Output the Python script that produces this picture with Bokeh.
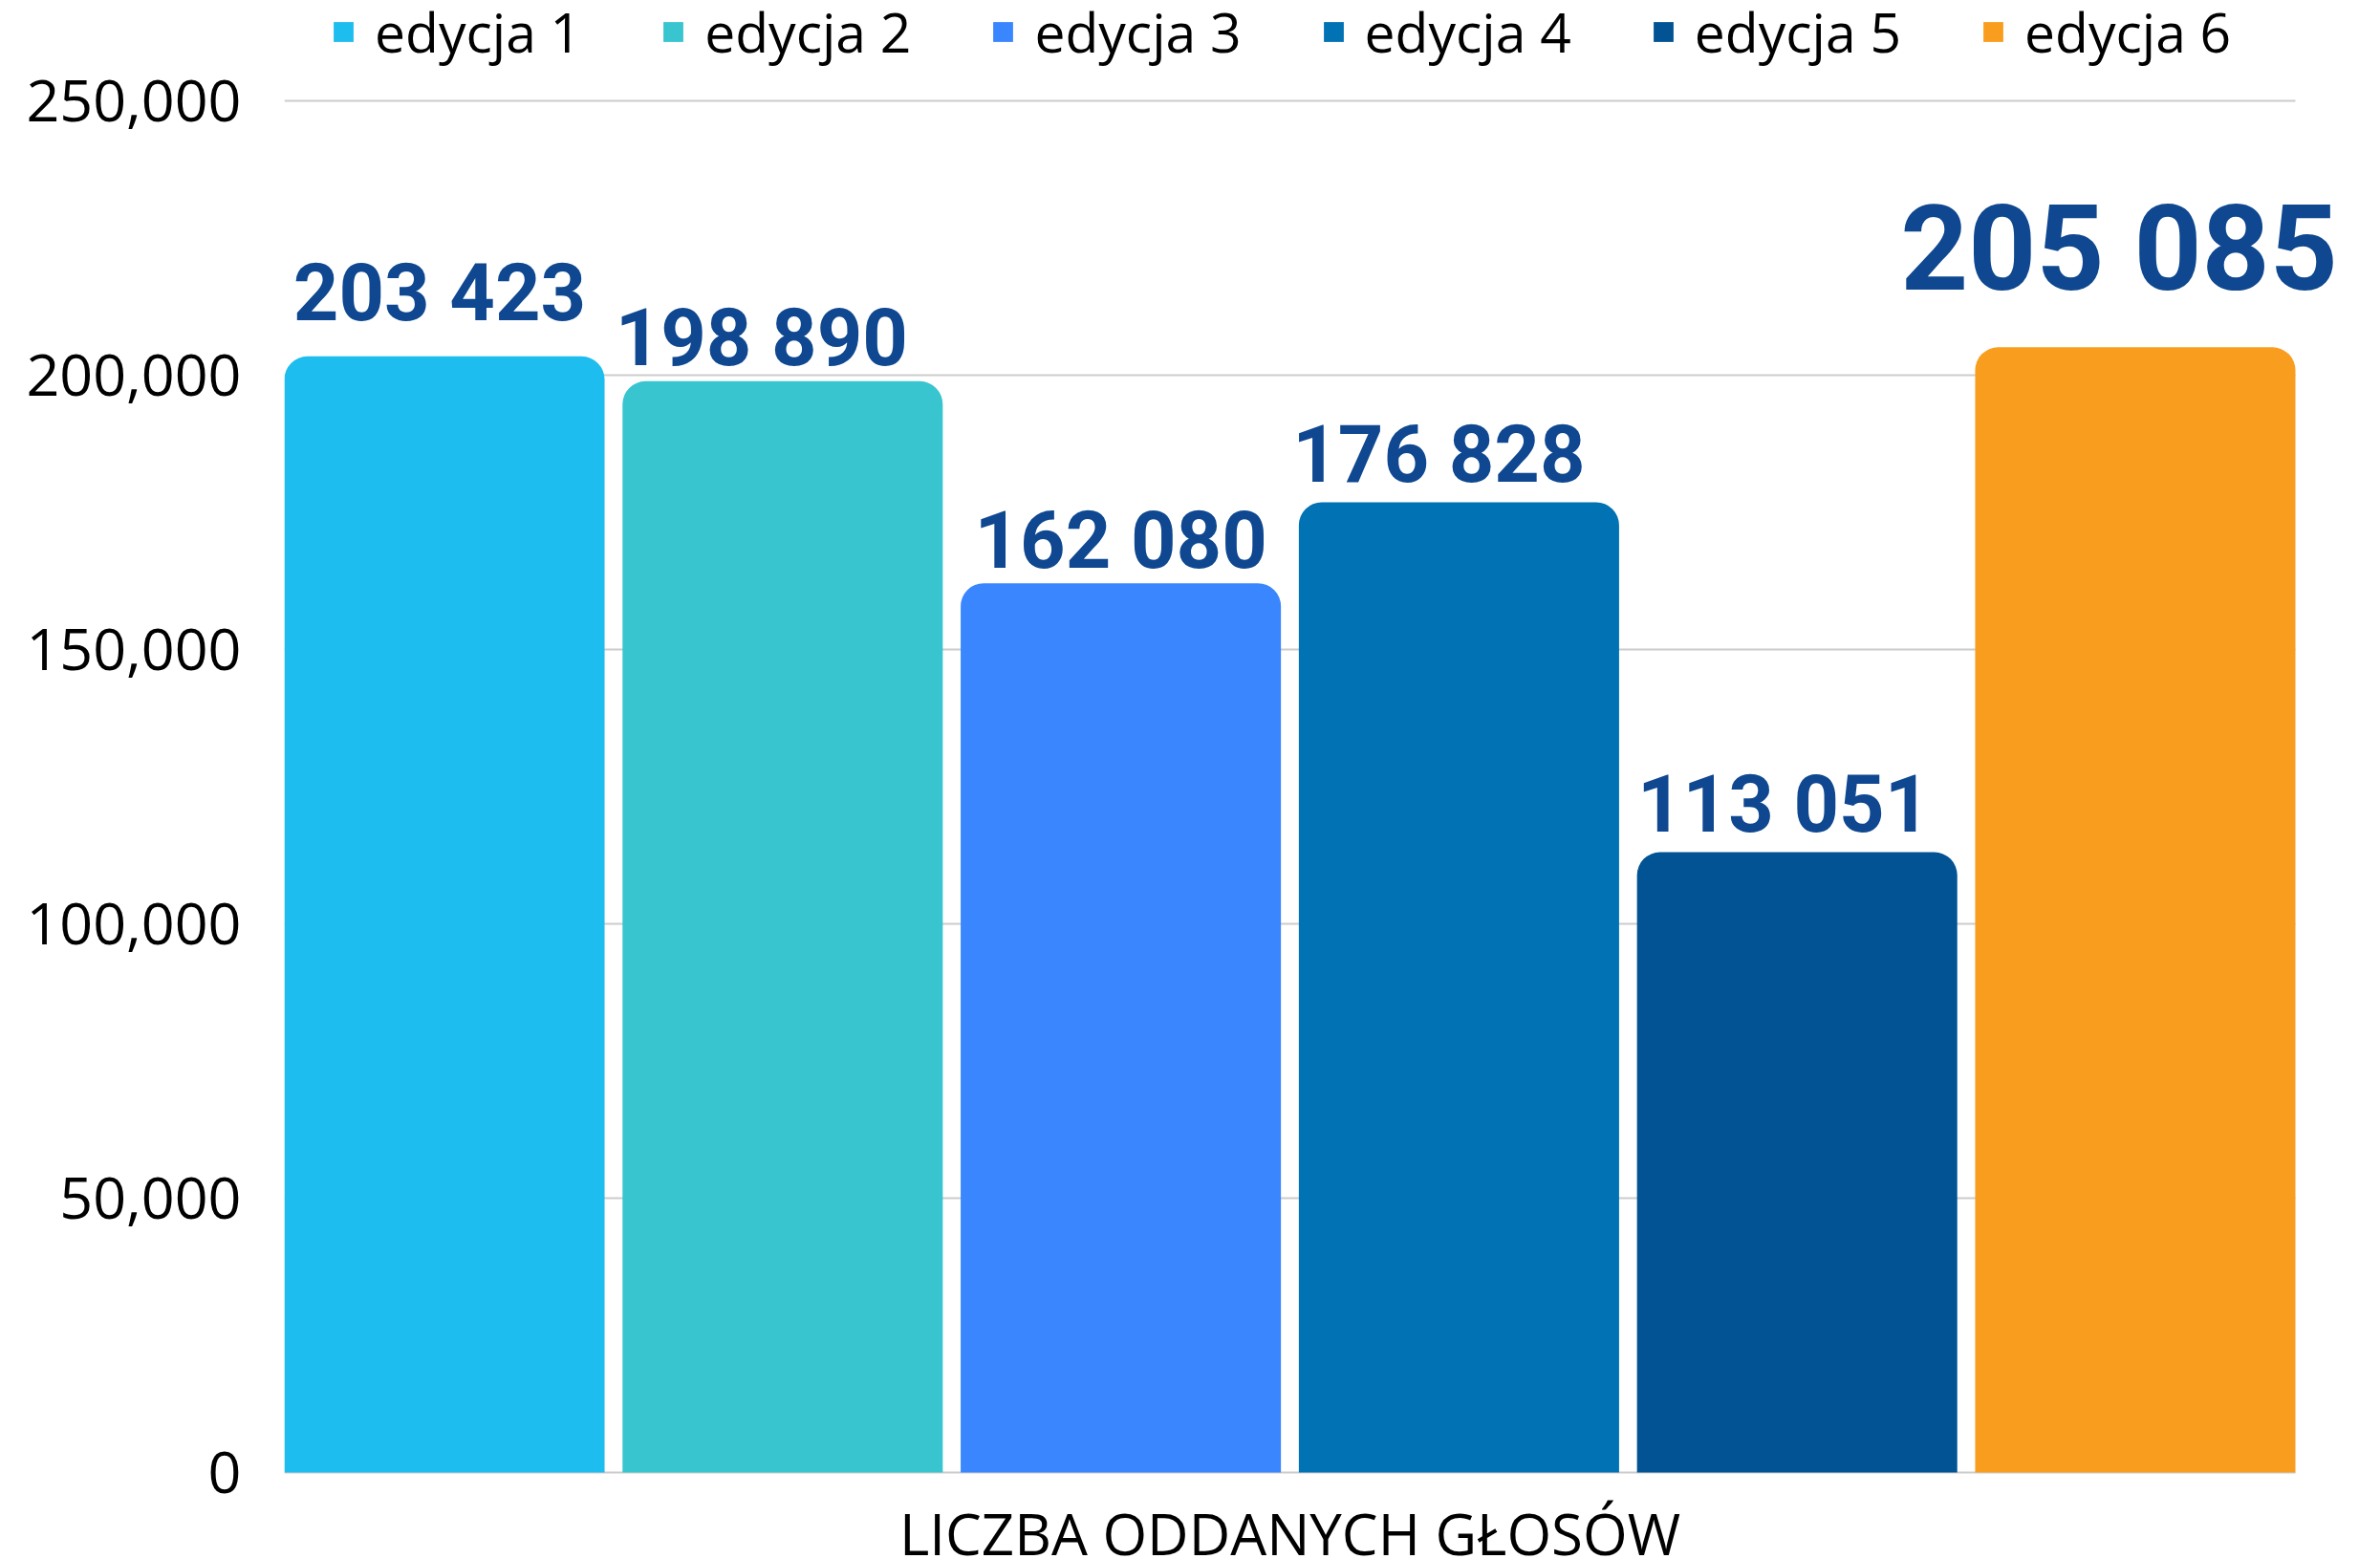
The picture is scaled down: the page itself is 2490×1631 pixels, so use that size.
from bokeh.plotting import figure
from bokeh.models import ColumnDataSource, Range1d, FixedTicker, NumeralTickFormatter, LabelSet
from bokeh.core.properties import value
from bokeh.embed import file_html
from bokeh.resources import INLINE

# ---- data ----
editions = ["edycja 1", "edycja 2", "edycja 3", "edycja 4", "edycja 5", "edycja 6"]
votes = [203423, 198890, 162080, 176828, 113051, 205085]
vote_labels = ["203 423", "198 890", "162 080", "176 828", "113 051", "205 085"]
y_ticks = [0, 50000, 100000, 150000, 200000, 250000]
x_title = "LICZBA ODDANYCH GŁOSÓW"

# ---- styles ----
colors = ["#1EBDEF", "#38C5CF", "#3A86FF", "#0172B3", "#025393", "#F99D1F"]
label_sizes = ["83px", "83px", "83px", "83px", "83px", "124px"]
label_dx = [-5, -22, 0, -21, -14, -17]
label_dy = [38, 17, 16, 22, 22, 60]
BAR_W = 0.947

n = len(editions)
src = ColumnDataSource(dict(
    x=list(range(n)),
    edition=editions,
    votes=votes,
    label=vote_labels,
    color=colors,
    size=label_sizes,
    dx=label_dx,
    dy=label_dy,
))

# ---- layout (page pixels) ----
W, H = 2490, 1631
frame_left = 297
bars_right = 2401
zero_px = 1540
top_tick_px = 105
slot_px = (bars_right - frame_left) / (n - 1 + BAR_W)
units_per_px = max(y_ticks) / (zero_px - top_tick_px)

x_start = -BAR_W / 2
x_end = x_start + (W - frame_left) / slot_px
y_start = -(H - zero_px) * units_per_px
y_end = zero_px * units_per_px

p = figure(width=W, height=H, output_backend="svg", toolbar_location=None,
           x_range=Range1d(x_start, x_end), y_range=Range1d(y_start, y_end),
           min_border_left=frame_left, min_border_right=0,
           min_border_top=0, min_border_bottom=0)
p.outline_line_color = None
p.background_fill_color = "white"
p.border_fill_color = "white"
p.xaxis.visible = False
p.xgrid.visible = False
p.ygrid.visible = False

# grid lines limited to the bar extent
p.segment(x0=[x_start] * len(y_ticks), x1=[n - 1 + BAR_W / 2] * len(y_ticks),
          y0=y_ticks, y1=y_ticks, line_color="#CCCCCC", line_width=2, level="underlay")

p.vbar(x="x", top="votes", width=BAR_W, source=src, fill_color="color",
       line_color=None, legend_field="edition", border_radius=(24, 24, 0, 0))

labels = LabelSet(x="x", y="votes", text="label", source=src,
                  x_offset="dx", y_offset="dy",
                  text_align="center", text_baseline="alphabetic",
                  text_font=value("Roboto"), text_font_style="bold",
                  text_font_size="size", text_color="#0F4890")
p.add_layout(labels)

# x title below the bars
p.text(x=[(n - 1) / 2], y=[0], text=[x_title], y_offset=63,
       text_align="center", text_baseline="middle",
       text_font=value("Open Sans"), text_font_size="60px", text_color="black")

# y axis
p.yaxis.ticker = FixedTicker(ticks=y_ticks)
p.yaxis.formatter = NumeralTickFormatter(format="0,0")
p.yaxis.axis_line_color = None
p.yaxis.major_tick_line_color = None
p.yaxis.minor_tick_line_color = None
p.yaxis.major_label_text_font = "Open Sans"
p.yaxis.major_label_text_font_size = "61px"
p.yaxis.major_label_text_color = "black"
p.yaxis.major_label_standoff = 39

# legend
lg = p.legend[0]
lg.orientation = "horizontal"
lg.location = (49, H - 72)
lg.padding = 0
lg.margin = 0
lg.spacing = 83
lg.glyph_width = 26
lg.glyph_height = 26
lg.label_standoff = 20
lg.label_text_font = "Open Sans"
lg.label_text_font_size = "57px"
lg.label_text_color = "black"
lg.border_line_color = None
lg.background_fill_alpha = 0

open("out.html", "w").write(file_html(p, INLINE))
